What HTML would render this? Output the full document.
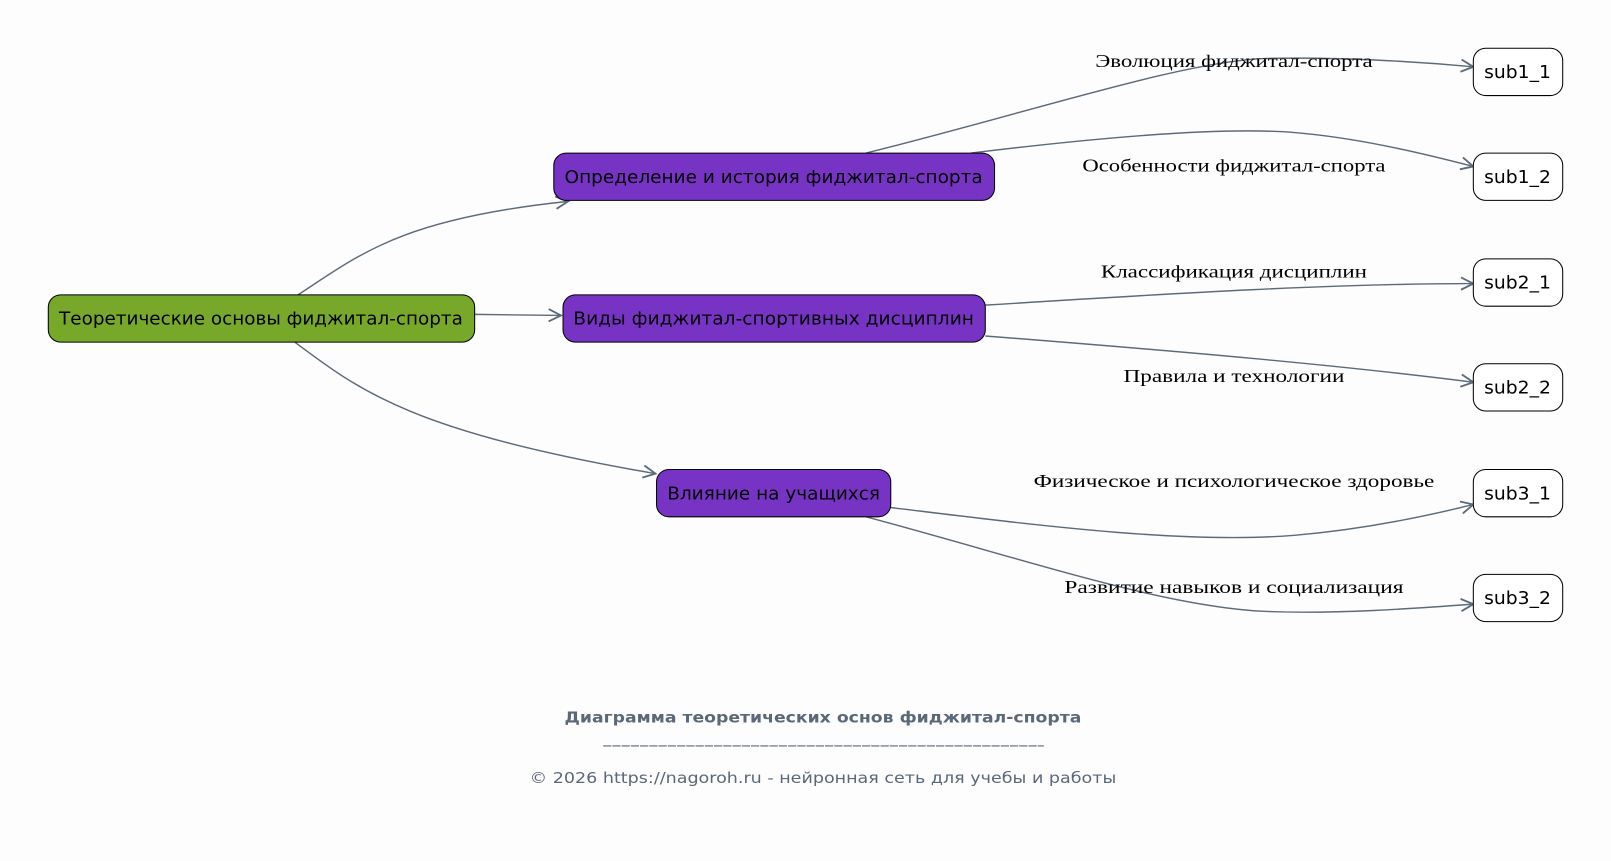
<!DOCTYPE html>
<html><head><meta charset="utf-8"><style>
html,body{margin:0;padding:0;background:#fdfdfd;}
svg{display:block}
.n{font-family:"DejaVu Sans","Liberation Sans",sans-serif;font-size:17px;fill:#000}
.l{font-family:"Liberation Serif","DejaVu Serif",serif;font-size:17px;fill:#000}
.e{fill:none;stroke:#5c6b7a;stroke-width:1.4}
</style></head><body>
<svg width="1611" height="861" viewBox="0 0 1568 838" preserveAspectRatio="none" xmlns="http://www.w3.org/2000/svg">
<defs>
<marker id="a" markerWidth="16" markerHeight="14" refX="13" refY="7" orient="auto" markerUnits="userSpaceOnUse">
<path d="M1,1 L13,7 L1,13" fill="none" stroke="#5c6b7a" stroke-width="1.8"/>
</marker>
</defs>
<rect width="1568" height="838" fill="#fdfdfd"/>
<g class="e" marker-end="url(#a)">
<path d="M290,287 C350,248 390,213 553,196"/>
<path d="M462,306 L546,307"/>
<path d="M287,333 C350,380 400,420 638,461"/>
<path d="M843,149 C1000,110 1150,60 1230,57 C1300,55 1380,60 1434,65"/>
<path d="M945,149 C1100,130 1200,124 1260,129 C1320,134 1380,148 1434,162"/>
<path d="M959,297 C1150,285 1300,276 1434,276"/>
<path d="M959,327 C1150,342 1300,355 1434,372"/>
<path d="M867,494 C1000,510 1150,530 1260,521 C1330,515 1390,502 1434,491"/>
<path d="M843,503 C1000,545 1130,590 1230,595 C1300,598 1380,592 1434,588"/>
</g>
<g stroke="#000" stroke-width="1">
<rect x="47" y="287" width="415" height="46" rx="12" fill="#78a82a"/>
<rect x="539" y="149" width="429" height="46" rx="12" fill="#7633c4"/>
<rect x="548" y="287" width="411" height="46" rx="12" fill="#7633c4"/>
<rect x="639" y="457" width="228" height="46" rx="12" fill="#7633c4"/>
<rect x="1434" y="47" width="87" height="46" rx="12" fill="#fff"/>
<rect x="1434" y="149" width="87" height="46" rx="12" fill="#fff"/>
<rect x="1434" y="252" width="87" height="46" rx="12" fill="#fff"/>
<rect x="1434" y="354" width="87" height="46" rx="12" fill="#fff"/>
<rect x="1434" y="457" width="87" height="46" rx="12" fill="#fff"/>
<rect x="1434" y="559" width="87" height="46" rx="12" fill="#fff"/>
</g>
<g class="n" text-anchor="middle">
<text x="254" y="316" textLength="393" lengthAdjust="spacingAndGlyphs">Теоретические основы фиджитал-спорта</text>
<text x="753" y="178" textLength="407" lengthAdjust="spacingAndGlyphs">Определение и история фиджитал-спорта</text>
<text x="753" y="316" textLength="390" lengthAdjust="spacingAndGlyphs">Виды фиджитал-спортивных дисциплин</text>
<text x="753" y="486" textLength="207" lengthAdjust="spacingAndGlyphs">Влияние на учащихся</text>
<text x="1477" y="76" textLength="65" lengthAdjust="spacingAndGlyphs">sub1_1</text>
<text x="1477" y="178" textLength="65" lengthAdjust="spacingAndGlyphs">sub1_2</text>
<text x="1477" y="281" textLength="65" lengthAdjust="spacingAndGlyphs">sub2_1</text>
<text x="1477" y="383" textLength="65" lengthAdjust="spacingAndGlyphs">sub2_2</text>
<text x="1477" y="486" textLength="65" lengthAdjust="spacingAndGlyphs">sub3_1</text>
<text x="1477" y="588" textLength="65" lengthAdjust="spacingAndGlyphs">sub3_2</text>
</g>
<g class="l" text-anchor="middle">
<text x="1201" y="65" textLength="270" lengthAdjust="spacingAndGlyphs">Эволюция фиджитал-спорта</text>
<text x="1201" y="167" textLength="295" lengthAdjust="spacingAndGlyphs">Особенности фиджитал-спорта</text>
<text x="1201" y="270" textLength="259" lengthAdjust="spacingAndGlyphs">Классификация дисциплин</text>
<text x="1201" y="372" textLength="215" lengthAdjust="spacingAndGlyphs">Правила и технологии</text>
<text x="1201" y="474" textLength="390" lengthAdjust="spacingAndGlyphs">Физическое и психологическое здоровье</text>
<text x="1201" y="577" textLength="330" lengthAdjust="spacingAndGlyphs">Развитие навыков и социализация</text>
</g>
<g font-family="DejaVu Sans, Liberation Sans, sans-serif" fill="#5a6878" text-anchor="middle">
<text x="801" y="703" font-size="15" font-weight="bold" textLength="503" lengthAdjust="spacingAndGlyphs">Диаграмма теоретических основ фиджитал-спорта</text>
<line x1="587" y1="726" x2="1016" y2="726" stroke="#5a6878" stroke-width="1" stroke-dasharray="8,1"/>
<text x="801" y="762" font-size="15" textLength="571" lengthAdjust="spacingAndGlyphs">© 2026 https://nagoroh.ru - нейронная сеть для учебы и работы</text>
</g>
</svg>
</body></html>
